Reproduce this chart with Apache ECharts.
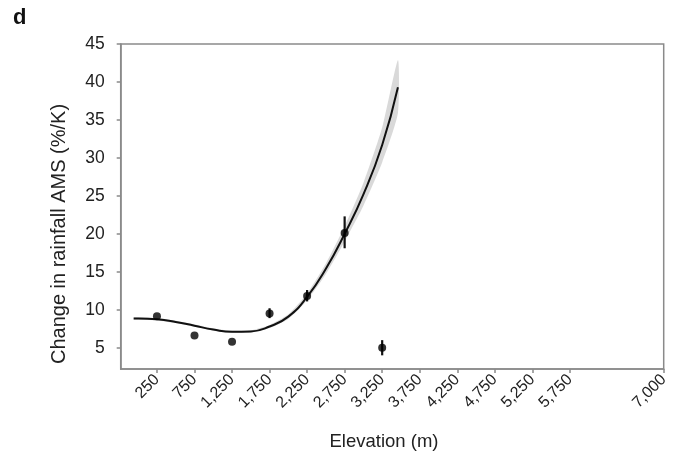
<!DOCTYPE html>
<html>
<head>
<meta charset="utf-8">
<script src="https://cdn.jsdelivr.net/npm/echarts@6/dist/echarts.min.js"></script>
<style>
  html, body { margin: 0; padding: 0; background: #fff; }
  #chart { width: 683px; height: 456px; }
</style>
</head>
<body>
<div id="chart"></div>
<script>
  // ticks shown on the elevation axis
  var xTicks = [250, 750, 1250, 1750, 2250, 2750, 3250, 3750, 4250, 4750, 5250, 5750, 7000];
  var yTicks = [5, 10, 15, 20, 25, 30, 35, 40, 45];

  // binned observations with their error bars
  var pointX = [250, 750, 1250, 1750, 2250, 2750, 3250];
  var pointY = [9.15, 6.6, 5.8, 9.5, 11.8, 20.1, 5.0];
  var errLow = [9.15, 6.6, 5.8, 8.9, 11.1, 18.1, 4.0];
  var errHigh = [9.15, 6.6, 5.8, 10.2, 12.6, 22.3, 6.0];

  // fitted curve and its confidence band
  var curveX = [-60, 0, 250, 500, 750, 1000, 1250, 1500, 1750, 2000, 2250, 2500, 2750, 3000, 3250, 3460];
  var curveY = [8.85, 8.85, 8.75, 8.4, 7.9, 7.4, 7.1, 7.15, 7.8, 9.1, 11.7, 15.4, 20.0, 25.2, 31.7, 39.3];
  var bandLow = [8.7, 8.7, 8.6, 8.25, 7.75, 7.25, 6.95, 7.0, 7.6, 8.8, 11.25, 14.7, 19.0, 23.7, 29.4, 35.9];
  var bandHigh = [9.0, 9.0, 8.9, 8.55, 8.05, 7.55, 7.25, 7.3, 8.0, 9.4, 12.15, 16.1, 21.0, 26.7, 34.0, 42.9];

  var FONT = 'Liberation Sans, Arial, sans-serif';
  var AXIS_COLOR = '#8a8a8a';

  var chart = echarts.init(document.getElementById('chart'), null, { renderer: 'canvas' });

  var curveData = curveX.map(function (x, i) { return [x, curveY[i]]; });
  var pointData = pointX.map(function (x, i) { return [x, pointY[i]]; });
  var errData = pointX.map(function (x, i) { return [x, errLow[i], errHigh[i]]; });

  var option = {
    backgroundColor: '#fff',
    animation: false,
    textStyle: { fontFamily: FONT },
    grid: {
      left: 120.7,
      right: 19.3,
      top: 44,
      bottom: 87,
      show: true,
      borderColor: AXIS_COLOR,
      borderWidth: 1.5
    },
    xAxis: {
      type: 'value',
      min: -233,
      max: 7000,
      splitLine: { show: false },
      axisLine: { onZero: false, lineStyle: { color: AXIS_COLOR, width: 1.5 } },
      axisTick: {
        show: true,
        length: 4,
        customValues: xTicks,
        lineStyle: { color: AXIS_COLOR, width: 1.5 }
      },
      axisLabel: {
        customValues: xTicks,
        rotate: 45,
        margin: 8,
        fontSize: 16,
        color: '#222',
        fontFamily: FONT,
        formatter: function (v) { return v.toLocaleString('en-US'); }
      }
    },
    yAxis: {
      type: 'value',
      min: 2.2,
      max: 45,
      splitLine: { show: false },
      axisLine: { show: true, onZero: false, lineStyle: { color: AXIS_COLOR, width: 1.5 } },
      axisTick: {
        show: true,
        length: 4,
        customValues: yTicks,
        lineStyle: { color: AXIS_COLOR, width: 1.5 }
      },
      axisLabel: {
        customValues: yTicks,
        margin: 16,
        fontSize: 17.5,
        color: '#222',
        fontFamily: FONT
      }
    },
    graphic: [
      {
        type: 'text', left: 13, top: 7,
        style: { text: 'd', fontSize: 22, fontWeight: 'bold', fill: '#111', fontFamily: FONT }
      },
      {
        type: 'text', x: 59, y: 234, rotation: Math.PI / 2,
        style: {
          text: 'Change in rainfall AMS (%/K)', fontSize: 20, fill: '#222',
          fontFamily: FONT, textAlign: 'center', textVerticalAlign: 'middle'
        }
      },
      {
        type: 'text', x: 384, y: 442,
        style: {
          text: 'Elevation (m)', fontSize: 18.5, fill: '#222',
          fontFamily: FONT, textAlign: 'center', textVerticalAlign: 'middle'
        }
      }
    ],
    series: [
      {
        name: 'band',
        type: 'custom',
        data: [[curveX[0], curveY[0]]],
        silent: true,
        renderItem: function (params, api) {
          var pts = [];
          for (var i = 0; i < curveX.length; i++) {
            pts.push(api.coord([curveX[i], bandHigh[i]]));
          }
          for (var j = curveX.length - 1; j >= 0; j--) {
            pts.push(api.coord([curveX[j], bandLow[j]]));
          }
          return {
            type: 'polygon',
            shape: { points: pts, smooth: 0.2 },
            style: { fill: '#d9d9d9', stroke: null }
          };
        },
        z: 1
      },
      {
        name: 'fit',
        type: 'line',
        data: curveData,
        smooth: true,
        symbol: 'none',
        lineStyle: { color: '#111', width: 2 },
        z: 3
      },
      {
        name: 'errors',
        type: 'custom',
        data: errData,
        renderItem: function (params, api) {
          var x = api.value(0);
          var p1 = api.coord([x, api.value(1)]);
          var p2 = api.coord([x, api.value(2)]);
          return {
            type: 'line',
            shape: { x1: p1[0], y1: p1[1], x2: p2[0], y2: p2[1] },
            style: { stroke: '#111', lineWidth: 2.2 }
          };
        },
        z: 4
      },
      {
        name: 'points',
        type: 'scatter',
        data: pointData,
        symbol: 'circle',
        symbolSize: 8,
        itemStyle: { color: '#000' },
        z: 5
      }
    ]
  };

  chart.setOption(option);
</script>
</body>
</html>
